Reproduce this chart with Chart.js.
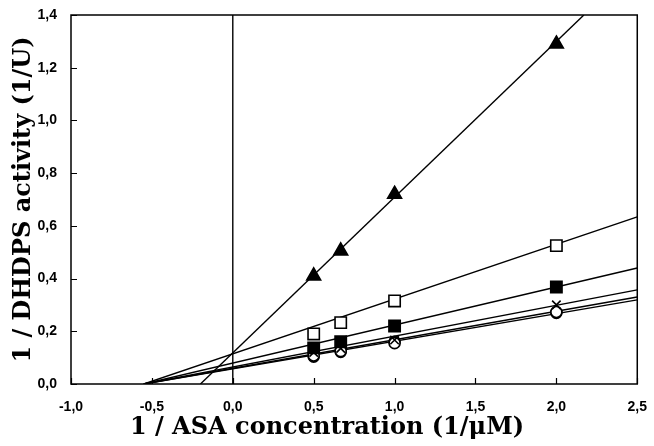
<!DOCTYPE html>
<html>
<head>
<meta charset="utf-8">
<script src="https://cdn.jsdelivr.net/npm/chart.js@4/dist/chart.umd.min.js"></script>
<style>
  html, body { margin: 0; padding: 0; background: #fff; }
  #wrap { width: 654px; height: 446px; }
</style>
</head>
<body>
<div id="wrap"><canvas id="c" width="654" height="446"></canvas></div>
<script>
// ---- data ----
const xValues = [0.5, 0.667, 1.0, 2.0];
const triangleY = [0.41, 0.505, 0.72, 1.29];
const openSquareY = [0.19, 0.233, 0.315, 0.525];
const filledSquareY = [0.137, 0.16, 0.22, 0.368];
const crossY = [0.12, 0.135, 0.167, 0.30];
const openCircleY = [0.108, 0.125, 0.155, 0.273];
const filledCircleY = [0.104, 0.122, 0.16, 0.27];

// fitted lines: [start, end] as [x, y] values
const fitTriangle = [[-0.2, 0], [2.17, 1.4]];
const fitOpenSquare = [[-0.55, 0], [2.5, 0.634]];
const fitFilledSquare = [[-0.55, 0], [2.5, 0.44]];
const fitCross = [[-0.55, 0], [2.5, 0.357]];
const fitOpenCircle = [[-0.55, 0], [2.5, 0.33]];
const fitFilledCircle = [[-0.55, 0], [2.5, 0.319]];
const zeroLine = [[0, 0], [0, 1.4]];

const xTickLabels = ['-1,0', '-0,5', '0,0', '0,5', '1,0', '1,5', '2,0', '2,5'];
const yTickLabels = ['0,0', '0,2', '0,4', '0,6', '0,8', '1,0', '1,2', '1,4'];
const xTitle = '1 / ASA concentration (1/\u03BCM)';
const yTitle = '1 / DHDPS activity (1/U)';

const toPts = (xs, ys) => xs.map((x, i) => ({x: x, y: ys[i]}));
const toLine = arr => arr.map(p => ({x: p[0], y: p[1]}));

function lineDS(arr) {
  return { type: 'scatter', data: toLine(arr), showLine: true, borderColor: '#000', borderWidth: 1.4,
           pointRadius: 0, pointHoverRadius: 0, fill: false, order: 2 };
}
function ptDS(ys, style, fill, r) {
  return { type: 'scatter', data: toPts(xValues, ys), showLine: false, pointStyle: style,
           pointRadius: r, pointHoverRadius: r, backgroundColor: fill, borderColor: '#000',
           pointBorderWidth: 1.6, order: 1 };
}

const frame = {
  id: 'frame',
  afterDraw(chart) {
    const ctx = chart.ctx, a = chart.chartArea;
    const xs = chart.scales.x, ys = chart.scales.y;
    ctx.save();
    ctx.strokeStyle = '#000';
    ctx.lineWidth = 1.5;
    ctx.strokeRect(a.left, a.top, a.right - a.left, a.bottom - a.top);
    ctx.lineWidth = 1.2;
    ctx.beginPath();
    xs.ticks.forEach(t => {
      const px = Math.round(xs.getPixelForValue(t.value)) + 0.5;
      ctx.moveTo(px, a.bottom); ctx.lineTo(px, a.bottom - 6);
    });
    ys.ticks.forEach(t => {
      const py = Math.round(ys.getPixelForValue(t.value)) + 0.5;
      ctx.moveTo(a.left, py); ctx.lineTo(a.left + 6, py);
    });
    ctx.stroke();
    // x axis title, centred on the page as in the reference
    ctx.fillStyle = '#000';
    ctx.font = 'bold 24px "DejaVu Serif"';
    ctx.textAlign = 'center';
    ctx.textBaseline = 'middle';
    ctx.fillText(xTitle, chart.width / 2, 428);
    ctx.restore();
  }
};

new Chart(document.getElementById('c'), {
  data: {
    datasets: [
      lineDS(zeroLine),
      lineDS(fitTriangle),
      lineDS(fitOpenSquare),
      lineDS(fitFilledSquare),
      lineDS(fitCross),
      lineDS(fitOpenCircle),
      lineDS(fitFilledCircle),
      ptDS(triangleY, 'triangle', '#000', 8),
      ptDS(openSquareY, 'rect', '#fff', 8),
      ptDS(filledSquareY, 'rect', '#000', 8),
      ptDS(crossY, 'crossRot', '#000', 6),
      ptDS(openCircleY, 'circle', '#fff', 5.5),
      ptDS(filledCircleY, 'circle', '#000', 5.5)
    ]
  },
  options: {
    responsive: false,
    animation: false,
    devicePixelRatio: 1,
    layout: { padding: { top: 15, right: 14, bottom: 0, left: 0 } },
    plugins: { legend: { display: false }, tooltip: { enabled: false } },
    scales: {
      x: {
        type: 'linear', min: -1, max: 2.5,
        grid: { display: false }, border: { display: false },
        ticks: { stepSize: 0.5, color: '#000', padding: 7, maxRotation: 0,
                 font: { family: 'Liberation Sans', weight: 'bold', size: 14 },
                 callback: (v, i) => xTickLabels[i] },
        title: { display: false },
        afterFit: s => { s.height = 62; }
      },
      y: {
        type: 'linear', min: 0, max: 1.4,
        grid: { display: false }, border: { display: false },
        ticks: { stepSize: 0.2, color: '#000', padding: 6,
                 font: { family: 'Liberation Sans', weight: 'bold', size: 14 },
                 callback: (v, i) => yTickLabels[i] },
        title: { display: true, text: yTitle, color: '#000',
                 font: { family: 'DejaVu Serif', weight: 'bold', size: 24 },
                 padding: { top: 9, bottom: 0 } },
        afterFit: s => { s.width = 71; }
      }
    }
  },
  plugins: [frame]
});
</script>
</body>
</html>
